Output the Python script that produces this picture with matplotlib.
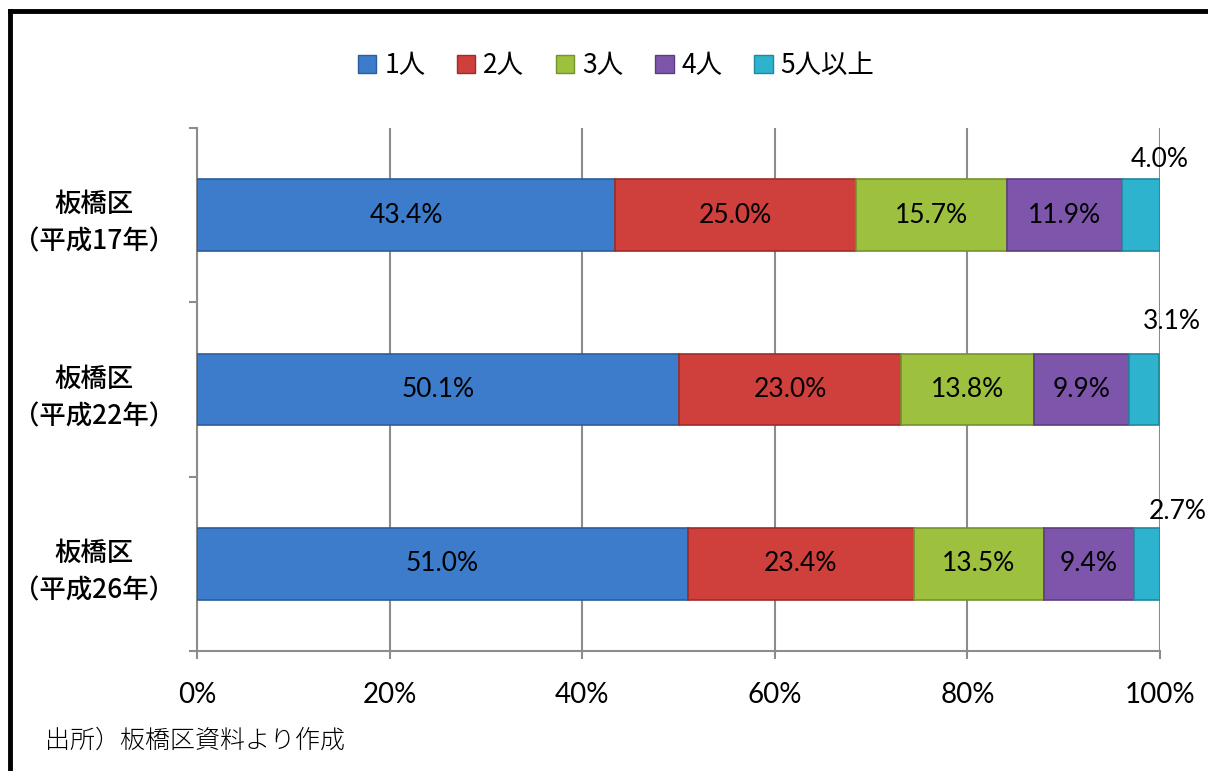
import numpy as np
import matplotlib.pyplot as plt
from matplotlib.lines import Line2D
from matplotlib.patches import Patch

# データ
categories = ["板橋区\n（平成17年）", "板橋区\n（平成22年）", "板橋区\n（平成26年）"]
series_names = ["1人", "2人", "3人", "4人", "5人以上"]
one_person = [43.4, 50.1, 51.0]
two_person = [25.0, 23.0, 23.4]
three_person = [15.7, 13.8, 13.5]
four_person = [11.9, 9.9, 9.4]
five_plus = [4.0, 3.1, 2.7]
x_ticks = [0, 20, 40, 60, 80, 100]
source_note = "出所）板橋区資料より作成"

colors = ["#3C7CCB", "#CF3F3B", "#9DC03F", "#7D55AA", "#2EB3CE"]
edges = ["#2A5E9E", "#9E2C29", "#76922C", "#5C3E80", "#1F889E"]

plt.rcParams['font.family'] = ['Noto Sans CJK JP', 'DejaVu Sans']
num_font = ['Lato', 'DejaVu Sans']

fig = plt.figure(figsize=(12.08, 7.71), dpi=100)
ax = fig.add_axes([0.1631, 0.1556, 0.7972, 0.6784])

series = [one_person, two_person, three_person, four_person, five_plus]
y = np.arange(len(categories))
left = np.zeros(len(categories))
for i, vals in enumerate(series):
    vals = np.array(vals)
    bars = ax.barh(y, vals, left=left, height=0.41, color=colors[i],
                   edgecolor=edges[i], linewidth=1.2, zorder=3,
                   label=series_names[i])
    if i < 4:
        for b, v in zip(bars, vals):
            ax.text(b.get_x() + b.get_width() / 2, b.get_y() + b.get_height() / 2,
                    f"{v:.1f}%", ha='center', va='center', fontsize=19,
                    family=num_font, zorder=4)
    else:
        # 5人以上 はバーの右上に表示
        offsets = [(0, 5), (9, 14), (13, 3)]
        for b, v, off in zip(bars, vals, offsets):
            ax.annotate(f"{v:.1f}%", (b.get_x() + b.get_width(), b.get_y()),
                        xytext=off, textcoords='offset points',
                        ha='center', va='bottom', fontsize=19,
                        family=num_font, zorder=4)
    left += vals

ax.set_xlim(0, 100)
ax.set_ylim(2.5, -0.5)
ax.set_xticks(x_ticks)
ax.set_xticklabels([f"{t}%" for t in x_ticks], fontsize=20, family=num_font)
ax.set_yticks(y)
ax.set_yticklabels(categories, fontsize=19, fontweight='medium', multialignment='center',
                   linespacing=1.5)
ax.set_yticks([-0.5, 0.5, 1.5, 2.5], minor=True)
ax.tick_params(axis='y', which='major', length=0, pad=16)
ax.tick_params(axis='y', which='minor', length=6, width=1.5, color='#8c8c8c')
ax.tick_params(axis='x', length=6, width=1.5, color='#8c8c8c', pad=16)

ax.grid(axis='x', color='#8c8c8c', linewidth=1.5, zorder=0)
for s in ['top', 'right']:
    ax.spines[s].set_visible(False)
for s in ['left', 'bottom']:
    ax.spines[s].set_color('#8c8c8c')
    ax.spines[s].set_linewidth(1.5)

handles = [Patch(facecolor=c, edgecolor=e) for c, e in zip(colors, edges)]
fig.legend(handles, series_names, loc='center', bbox_to_anchor=(0.51, 0.915), ncol=5,
           frameon=False, fontsize=19, handlelength=0.7, handleheight=0.7,
           handletextpad=0.3, columnspacing=1.2)

fig.text(0.037, 0.04, source_note, fontsize=18, fontweight='light', va='center')

# 枠線（上と左）
fig.add_artist(Line2D([0.0085, 1.0], [0.9857, 0.9857], color='black', linewidth=3.5,
                      transform=fig.transFigure, solid_capstyle='projecting'))
fig.add_artist(Line2D([0.0085, 0.0085], [0.0, 0.9857], color='black', linewidth=3.5,
                      transform=fig.transFigure, solid_capstyle='projecting'))

fig.savefig("out.png", dpi=100)
